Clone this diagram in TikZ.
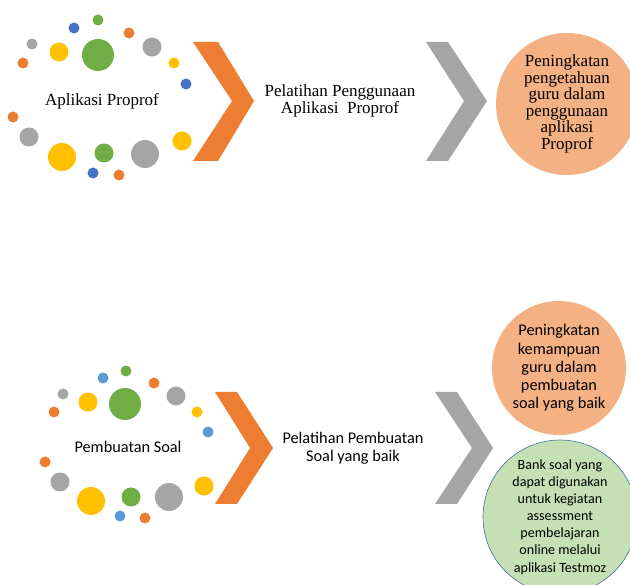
\documentclass[tikz,border=0pt]{standalone}
\usepackage{fontspec}
\setmainfont{Liberation Serif}
\newfontfamily\calibri{Carlito}
\definecolor{cOrange}{HTML}{ED7D31}
\definecolor{cGray}{HTML}{A5A5A5}
\definecolor{cYellow}{HTML}{FFC000}
\definecolor{cGreen}{HTML}{70AD47}
\definecolor{cBlue}{HTML}{4472C4}
\definecolor{cLightBlue}{HTML}{5B9BD5}
\definecolor{cPeach}{HTML}{F4B183}
\definecolor{cMint}{HTML}{C5E0B4}
\definecolor{cRim}{HTML}{41719C}
\begin{document}
\begin{tikzpicture}[x=1pt,y=-1pt,
  chev/.style={draw=none},
  label/.style={align=center,inner sep=0pt},
  serifbig/.style={font=\fontsize{17}{16.6}\selectfont},
  sansmid/.style={font=\calibri\fontsize{16.3}{18.2}\selectfont},
  sanssmall/.style={font=\calibri\fontsize{14.1}{17.1}\selectfont},
  outcome/.style={circle,inner sep=0pt,draw=none}]
\useasboundingbox (0,0) rectangle (630,585);
\fill[white] (0,0) rectangle (630,585);

% ---------- upper row ----------
% ring of dots around the first topic
\fill[cGreen]  (98,20)  circle (5.5);
\fill[cBlue]   (74,28)  circle (5.5);
\fill[cOrange] (129,33) circle (5.5);
\fill[cGray]   (32,44)  circle (5.5);
\fill[cYellow] (59,52)  circle (9.5);
\fill[cGreen]  (98,55)  circle (16);
\fill[cGray]   (152,47) circle (9.5);
\fill[cOrange] (23,63)  circle (5.5);
\fill[cYellow] (174,63) circle (5.5);
\fill[cBlue]   (186,84) circle (5.5);
\fill[cOrange] (13,117) circle (5.5);
\fill[cGray]   (29,137) circle (9.5);
\fill[cYellow] (62,157) circle (14);
\fill[cGreen]  (104,153) circle (9.5);
\fill[cGray]   (145,154) circle (14);
\fill[cYellow] (182,141) circle (9.5);
\fill[cBlue]   (93,173) circle (5.5);
\fill[cOrange] (119,175) circle (5.5);
\node[label,serifbig] (topicA) at (102,101) {Aplikasi Proprof};

% chevrons
\fill[cOrange,chev] (193,42) -- (218,42) -- (254,101) -- (218,161) -- (193,161) -- (232,101) -- cycle;
\node[label,serifbig] (trainA) at (340,101) {Pelatihan Penggunaan\\Aplikasi\ \ Proprof};
\fill[cGray,chev] (426,42) -- (448,42) -- (487,101) -- (448,161) -- (426,161) -- (464,101) -- cycle;

\node[outcome,fill=cPeach,minimum size=142pt] (outA) at (567,104) {};
\node[label,serifbig] at (outA.center) {Peningkatan\\pengetahuan\\guru dalam\\penggunaan\\aplikasi\\Proprof};

% ---------- lower row ----------
\fill[cGreen]     (126,371) circle (5.5);
\fill[cLightBlue] (103,378) circle (5.5);
\fill[cOrange]    (154,383) circle (5.5);
\fill[cGray]      (63,394)  circle (5.5);
\fill[cYellow]    (88,402)  circle (9.5);
\fill[cGreen]     (125,404) circle (16);
\fill[cGray]      (176,396) circle (9.5);
\fill[cOrange]    (54,412)  circle (5.5);
\fill[cYellow]    (197,412) circle (5.5);
\fill[cLightBlue] (208,432) circle (5.5);
\fill[cOrange]    (45,462)  circle (5.5);
\fill[cGray]      (60,482)  circle (9.5);
\fill[cYellow]    (91,501)  circle (14);
\fill[cGreen]     (131,497) circle (9.5);
\fill[cGray]      (169,497) circle (14);
\fill[cYellow]    (204,486) circle (9.5);
\fill[cLightBlue] (120,516) circle (5.5);
\fill[cOrange]    (145,518) circle (5.5);
\node[label,sansmid] (topicB) at (128,447) {Pembuatan Soal};

\fill[cOrange,chev] (215,392) -- (237,392) -- (273,448) -- (237,504) -- (215,504) -- (250,448) -- cycle;
\node[label,sansmid] (trainB) at (353,448) {Pelatihan Pembuatan\\Soal yang baik};
\fill[cGray,chev] (435,392) -- (457,392) -- (493,448) -- (457,504) -- (435,504) -- (472,448) -- cycle;

\node[outcome,fill=cPeach,minimum size=134pt] (outB) at (559,368) {};
\node[label,sansmid] at (outB.center) {Peningkatan\\kemampuan\\guru dalam\\pembuatan\\soal yang baik};

\node[outcome,fill=cMint,draw=cRim,line width=0.6pt,minimum size=154pt] (outC) at (560,517) {};
\node[label,sanssmall] at (outC.center) {Bank soal yang\\dapat digunakan\\untuk kegiatan\\assessment\\pembelajaran\\online melalui\\aplikasi Testmoz};
\end{tikzpicture}
\end{document}
